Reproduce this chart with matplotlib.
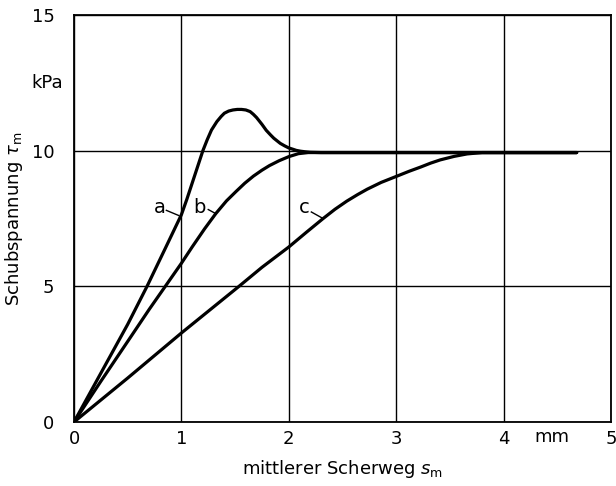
import matplotlib
matplotlib.use("Agg")
import matplotlib.pyplot as plt
import matplotlib.transforms as mtransforms

# ---- data ----
x_a = [0, 0.25, 0.5, 0.68, 0.85, 1.0, 1.05, 1.1, 1.15, 1.2, 1.24, 1.28, 1.33, 1.37, 1.4,
       1.44, 1.48, 1.52, 1.56, 1.6, 1.64, 1.67, 1.7, 1.75, 1.79, 1.83, 1.86, 1.92, 1.96,
       2.0, 2.04, 2.07, 2.11, 2.15, 2.2, 2.3, 2.6, 3.0, 3.5, 4.0, 4.68]
v_a = [0, 1.8, 3.6, 5.0, 6.4, 7.64, 8.2, 8.8, 9.4, 10.0, 10.4, 10.76, 11.07, 11.26, 11.38,
       11.46, 11.5, 11.52, 11.52, 11.5, 11.44, 11.34, 11.22, 10.97, 10.75, 10.58, 10.46, 10.27, 10.18,
       10.1, 10.05, 10.01, 9.98, 9.96, 9.94, 9.93, 9.93, 9.93, 9.93, 9.93, 9.93]

x_b = [0, 0.25, 0.5, 0.7, 0.85, 1.0, 1.1, 1.216, 1.32, 1.42, 1.51, 1.59, 1.67, 1.75, 1.82,
       1.91, 2.0, 2.09, 2.18, 2.3, 3.0, 4.0, 4.68]
v_b = [0, 1.5, 2.97, 4.15, 5.0, 5.85, 6.45, 7.12, 7.68, 8.15, 8.5, 8.8, 9.06, 9.28, 9.45,
       9.63, 9.78, 9.89, 9.93, 9.93, 9.93, 9.93, 9.93]

x_c = [0, 0.5, 1.0, 1.53, 1.75, 2.0, 2.16, 2.32, 2.43, 2.54, 2.64, 2.73, 2.86, 3.0, 3.12,
       3.23, 3.32, 3.41, 3.54, 3.66, 3.8, 4.2, 4.68]
v_c = [0, 1.62, 3.28, 4.98, 5.7, 6.45, 6.98, 7.5, 7.84, 8.14, 8.38, 8.58, 8.83, 9.05, 9.24,
       9.4, 9.54, 9.66, 9.79, 9.88, 9.93, 9.93, 9.93]

curve_labels = ["a", "b", "c"]
label_pos = [(0.80, 7.92), (1.17, 7.92), (2.14, 7.92)]
leader_from = [(0.86, 7.80), (1.25, 7.83), (2.21, 7.74)]
leader_to = [(0.975, 7.61), (1.32, 7.68), (2.31, 7.52)]

x_ticks = [0, 1, 2, 3, 4, 5]
y_ticks = [0, 5, 10, 15]
x_unit = "mm"
y_unit = "kPa"

# ---- figure ----
plt.rcParams['font.family'] = ['DejaVu Sans']
fig = plt.figure(figsize=(6.16, 4.86), dpi=100)
ax = fig.add_axes([74/616, 1 - 422/486, (611-74)/616, (422-15)/486])

for xs, vs in [(x_a, v_a), (x_b, v_b), (x_c, v_c)]:
    ax.plot(xs, vs, color='black', lw=2.3, solid_joinstyle='round', solid_capstyle='round', zorder=3)

for lab, p, f, t in zip(curve_labels, label_pos, leader_from, leader_to):
    ax.text(p[0], p[1], lab, fontsize=14, ha='center', va='center', zorder=4)
    ax.plot([f[0], t[0]], [f[1], t[1]], color='black', lw=1.0, zorder=4)

ax.set_xlim(0, 5)
ax.set_ylim(0, 15)
ax.set_xticks(x_ticks)
ax.set_yticks(y_ticks)
ax.set_xticklabels([str(t) for t in x_ticks])
ax.set_yticklabels([str(t) for t in y_ticks])
ax.tick_params(axis='both', length=0, labelsize=13)
ax.tick_params(axis='x', pad=6)
ax.tick_params(axis='y', pad=14)
ax.grid(True, color='black', lw=1.0)
ax.set_axisbelow(True)
for s in ax.spines.values():
    s.set_linewidth(1.3)

# unit labels
trans_y = mtransforms.blended_transform_factory(ax.transAxes, ax.transData)
ax.text(-0.05, 12.5, y_unit, transform=trans_y, fontsize=13, ha='center', va='center')
trans_x = mtransforms.blended_transform_factory(ax.transData, ax.transAxes)
ax.text(4.45, -0.037, x_unit, transform=trans_x, fontsize=13, ha='center', va='center')

ax.set_xlabel(r"mittlerer Scherweg $s_\mathrm{m}$", fontsize=13, labelpad=7)
ax.set_ylabel(r"Schubspannung $\tau_\mathrm{m}$", fontsize=13)
ax.yaxis.set_label_coords(-0.092, 0.5)

fig.savefig("out.png", dpi=100)
